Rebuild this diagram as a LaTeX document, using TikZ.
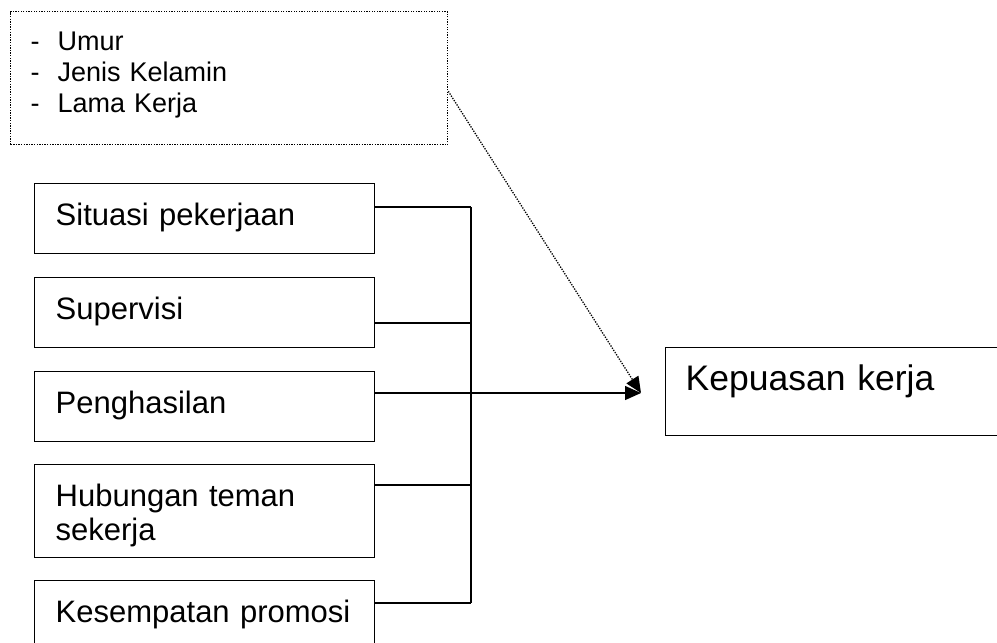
\documentclass[tikz,border=0pt]{standalone}
\usepackage{fontspec}
\setmainfont{Liberation Sans}
\usetikzlibrary{arrows.meta,positioning}

\newcommand{\ctxitem}[1]{\makebox[27pt][l]{-}#1}

\begin{document}
\begin{tikzpicture}[x=1pt,y=-1pt]
				\tikzstyle{Box}		= [draw, line width=1.4pt, anchor=north west, minimum width=340pt, text width=298pt, inner xsep=21pt, inner ysep=19pt, text height=23pt, align=left, font=\fontsize{31}{34}\selectfont]
				\tikzstyle{Ctx}		= [draw, dash pattern=on 1.3pt off 1.3pt, line width=1.3pt, anchor=north west, minimum width=437pt, text width=397pt, inner xsep=20pt, inner ysep=19pt, text height=20pt, text depth=75pt, align=left, font=\fontsize{27}{31}\selectfont]
				\tikzstyle{Goal}	= [draw, line width=1.4pt, anchor=north west, minimum width=360pt, text width=320pt, inner xsep=20pt, inner ysep=18pt, text height=25pt, text depth=27pt, align=left, font=\fontsize{35.5}{40}\selectfont]
				\tikzstyle{Link}	= [line width=1.4pt]
				\tikzstyle{Hint}	= [dash pattern=on 1.3pt off 1.3pt, line width=1.3pt]
				\tikzstyle{Head}	= [-{Triangle[length=16pt,width=14pt]}]

				\clip (0,0) rectangle (997,643);

				\node (ctx) at (10,11) [Ctx] {\ctxitem{Umur}\\\ctxitem{Jenis Kelamin}\\\ctxitem{Lama Kerja}};

				\node (f1) at (34,183) [Box][text depth=9pt] {Situasi pekerjaan};
				\node (f2) at (34,277) [Box][text depth=9pt] {Supervisi};
				\node (f3) at (34,371) [Box][text depth=9pt] {Penghasilan};
				\node (f4) at (34,464) [Box][text depth=32pt] {Hubungan teman\\sekerja};
				\node (f5) at (34,580) [Box][text depth=20pt] {Kesempatan promosi};

				\node (goal) at (665,347) [Goal] {Kepuasan kerja};

				\coordinate (j1) at (471,207);
				\coordinate (j2) at (471,323);
				\coordinate (j3) at (471,393);
				\coordinate (j4) at (471,485);
				\coordinate (j5) at (471,603);
				\coordinate (tip) at (641,393);

				\draw [-] (j1 -| f1.east) to (j1) [Link];
				\draw [-] (j2 -| f2.east) to (j2) [Link];
				\draw [-] (j4 -| f4.east) to (j4) [Link];
				\draw [-] (j5 -| f5.east) to (j5) [Link];
				\draw [-] (j1) to (j5) [Link];
				\draw (j3 -| f3.east) to (tip) [Link][Head];
				\draw ([yshift=54pt]ctx.south east) to (tip) [Hint][Head];
			\end{tikzpicture}
\end{document}
